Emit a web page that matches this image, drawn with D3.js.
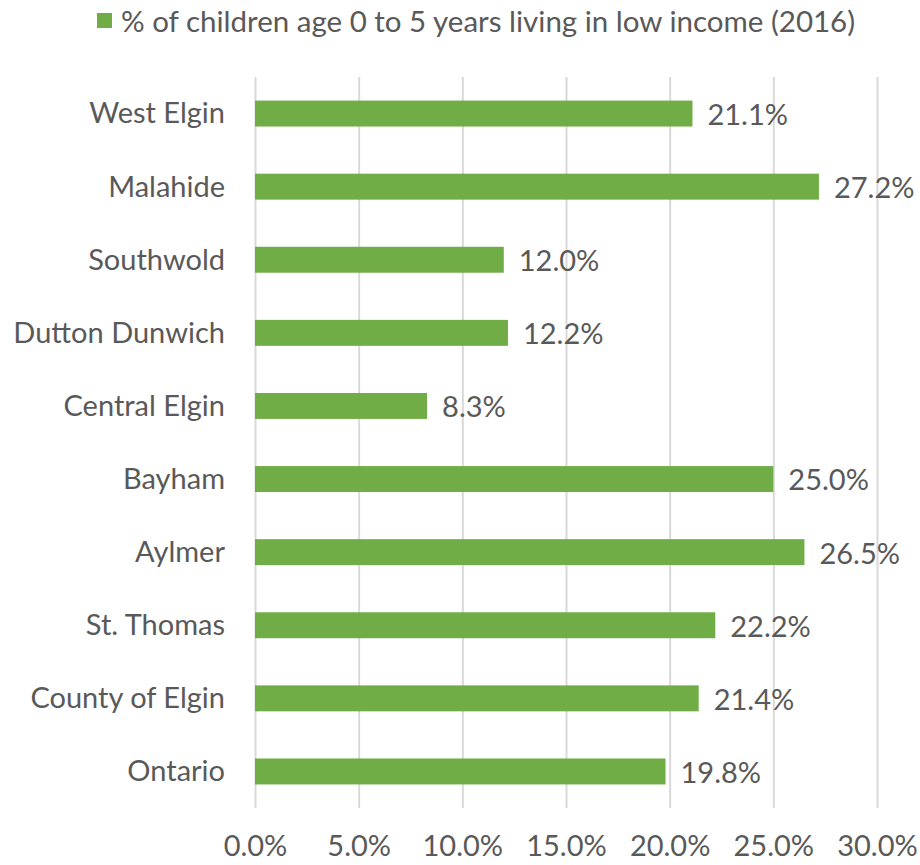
<!DOCTYPE html>
<html><head><meta charset="utf-8">
<script src="https://cdn.jsdelivr.net/npm/d3@7"></script>
<style>body{margin:0;background:#fff}svg{display:block}text{font-family:Lato,"Open Sans",sans-serif;fill:#595959}</style>
</head><body><svg id="c" width="920" height="865"></svg>
<script>
const categories = ["West Elgin","Malahide","Southwold","Dutton Dunwich","Central Elgin","Bayham","Aylmer","St. Thomas","County of Elgin","Ontario"];
const values = [21.1,27.2,12.0,12.2,8.3,25.0,26.5,22.2,21.4,19.8];
const xTicks = [0,5,10,15,20,25,30];
const seriesName = "% of children age 0 to 5 years living in low income (2016)";

const FS = 29;
const svg = d3.select("#c");
const x = d3.scaleLinear().domain([0,30]).range([255,877]);
const y = d3.scaleBand().domain(categories).range([77,808]).paddingInner(0.645).paddingOuter(0.3225);

svg.append("g").selectAll("line").data(xTicks).join("line")
  .attr("x1",d=>x(d)+0.5).attr("x2",d=>x(d)+0.5).attr("y1",77).attr("y2",808)
  .attr("stroke","#d9d9d9").attr("stroke-width",2);

svg.append("g").selectAll("rect").data(values).join("rect")
  .attr("x",x(0)).attr("y",(d,i)=>y(categories[i]))
  .attr("width",d=>x(d)-x(0)).attr("height",y.bandwidth())
  .attr("fill","#70ad47");

svg.append("g").selectAll("text").data(values).join("text")
  .attr("x",d=>x(d)+15).attr("y",(d,i)=>y(categories[i])+y.bandwidth()/2+1)
  .attr("dy","0.36em").attr("font-size",FS).text(d=>d.toFixed(1)+"%");

const yAxis = d3.axisLeft(y).tickSize(0).tickPadding(30);
const gy = svg.append("g").attr("transform",`translate(${x(0)},0)`).call(yAxis);
gy.select(".domain").remove();
gy.selectAll("text").attr("font-size",FS).attr("dy","0.34em").style("font-family","Lato,'Open Sans',sans-serif").attr("fill","#595959");

const xAxis = d3.axisBottom(x).tickValues(xTicks).tickSize(0).tickPadding(0).tickFormat(d=>d.toFixed(1)+"%");
const gx = svg.append("g").attr("transform","translate(0,835)").call(xAxis);
gx.select(".domain").remove();
gx.selectAll("text").attr("font-size",FS).attr("dy","0.71em").style("font-family","Lato,'Open Sans',sans-serif").attr("fill","#595959");

const lg = svg.append("g");
lg.append("rect").attr("x",97).attr("y",13).attr("width",15).attr("height",15).attr("fill","#70ad47");
lg.append("text").attr("x",121).attr("y",21).attr("dy","0.36em").attr("font-size",29.5).text(seriesName);
</script></body></html>
